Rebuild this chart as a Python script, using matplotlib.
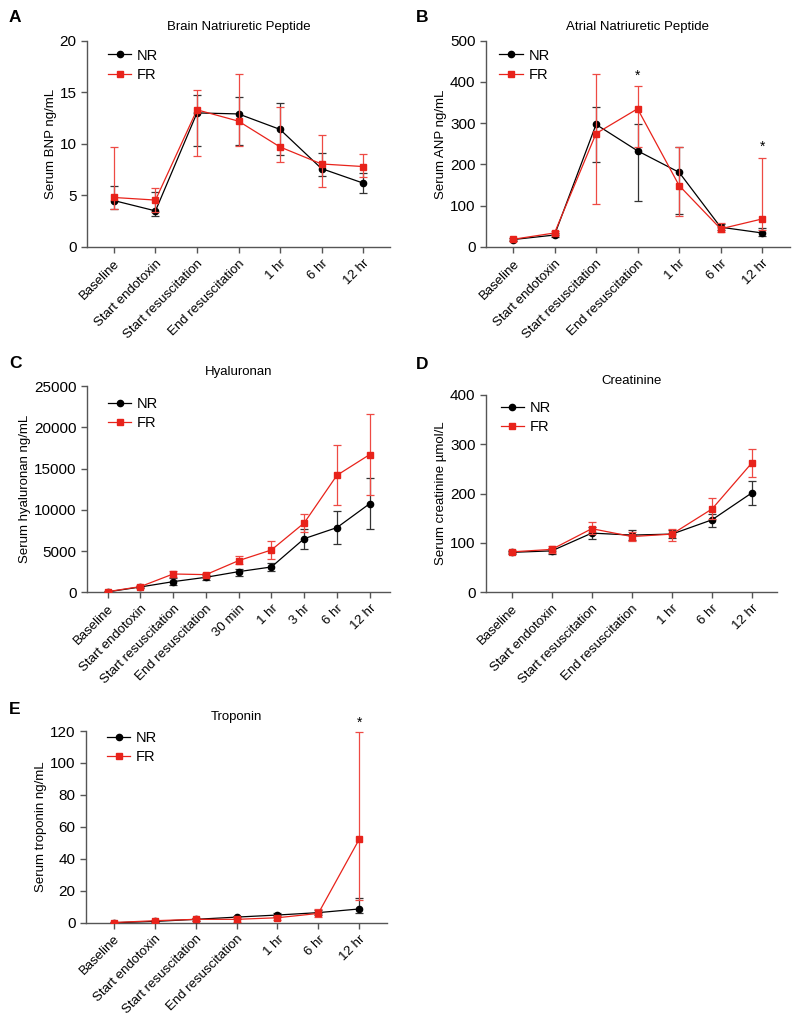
import numpy as np
import matplotlib
matplotlib.use("Agg")
import matplotlib.pyplot as plt
from matplotlib.lines import Line2D

plt.rcParams['font.family'] = ['Liberation Sans', 'DejaVu Sans']
plt.rcParams['font.size'] = 9

RED = '#e8231b'
GREY = '#555555'

tp7 = ['Baseline', 'Start endotoxin', 'Start resuscitation', 'End resuscitation',
       '1 hr', '6 hr', '12 hr']
tp9 = ['Baseline', 'Start endotoxin', 'Start resuscitation', 'End resuscitation',
       '30 min', '1 hr', '3 hr', '6 hr', '12 hr']

# BNP (ng/mL): mean, lower and upper end of error bar
bnp_nr = [4.5, 3.5, 13.0, 12.9, 11.4, 7.6, 6.2]
bnp_nr_lo = [3.7, 3.0, 9.8, 9.9, 8.9, 6.9, 5.2]
bnp_nr_hi = [5.9, 5.3, 14.7, 14.5, 14.0, 9.1, 7.2]
bnp_fr = [4.8, 4.55, 13.3, 12.2, 9.7, 8.05, 7.8]
bnp_fr_lo = [3.7, 3.4, 8.8, 9.8, 8.25, 5.8, 6.8]
bnp_fr_hi = [9.7, 5.7, 15.2, 16.8, 13.6, 10.9, 9.05]

# ANP (ng/mL)
anp_nr = [18, 29, 297, 233, 181, 48, 34]
anp_nr_lo = [15, 25, 207, 112, 81, 40, 27]
anp_nr_hi = [21, 33, 339, 299, 242, 56, 47]
anp_fr = [18.6, 34, 275, 335, 149, 44, 68]
anp_fr_lo = [15, 28, 105, 243, 76, 37, 40]
anp_fr_hi = [22, 38, 420, 389, 242, 58, 216]
anp_star = [3, 6]

# Hyaluronan (ng/mL)
ha_nr = [50, 646, 1290, 1820, 2505, 3070, 6500, 7840, 10740]
ha_nr_lo = [0, 500, 890, 1500, 2020, 2590, 5210, 5820, 7630]
ha_nr_hi = [150, 790, 1690, 2120, 2870, 3600, 7720, 9820, 13880]
ha_fr = [80, 690, 2220, 2140, 3840, 5130, 8400, 14180, 16690]
ha_fr_lo = [0, 550, 1820, 1820, 3430, 4040, 7310, 10540, 11750]
ha_fr_hi = [180, 830, 2630, 2380, 4400, 6220, 9450, 17860, 21610]

# Creatinine (umol/L)
cr_nr = [81, 84, 120, 116, 118, 147, 202]
cr_nr_lo = [78, 78, 108, 106, 110, 133, 177]
cr_nr_hi = [84, 90, 132, 127, 126, 158, 226]
cr_fr = [82, 87, 129, 113, 118, 169, 263]
cr_fr_lo = [79, 80, 118, 103, 105, 149, 234]
cr_fr_hi = [85, 94, 142, 123, 129, 192, 291]

# Troponin (ng/mL)
tn_nr = [0.0, 0.8, 2.1, 3.5, 4.8, 6.3, 8.6]
tn_nr_lo = [0.0, 0.3, 1.3, 2.5, 3.8, 4.8, 5.8]
tn_nr_hi = [0.3, 1.3, 2.9, 4.5, 5.8, 7.8, 15.2]
tn_fr = [0.1, 1.25, 2.1, 2.1, 3.1, 5.8, 52.2]
tn_fr_lo = [0.0, 0.5, 1.2, 0.6, 2.0, 3.8, 14.2]
tn_fr_hi = [0.3, 2.0, 3.0, 3.6, 4.2, 8.8, 119.6]
tn_star = [6]

W, H = 800, 1021
fig = plt.figure(figsize=(W / 100, H / 100), dpi=100)


def make_ax(left, right, top, bottom):
    return fig.add_axes([left / W, 1 - bottom / H, (right - left) / W, (bottom - top) / H])


def panel(ax, labels, nr, nr_lo, nr_hi, fr, fr_lo, fr_hi, title, ylabel, yticks,
          xlim, leg_anchor, letter, letter_xy, stars=(), star_off=0):
    x = np.arange(len(labels))
    nr = np.array(nr); fr = np.array(fr)
    ax.errorbar(x, nr, yerr=[nr - np.array(nr_lo), np.array(nr_hi) - nr], color='black',
                ecolor='#333333', elinewidth=0.9, capsize=3, capthick=0.9,
                marker='o', markersize=4.5, lw=0.9, zorder=3)
    ax.errorbar(x, fr, yerr=[fr - np.array(fr_lo), np.array(fr_hi) - fr], color=RED,
                ecolor='#ee4a44', elinewidth=0.9, capsize=3, capthick=0.9,
                marker='s', markersize=5, lw=0.9, zorder=4)
    for i in stars:
        ax.text(x[i], fr_hi[i] + star_off, '*', ha='center', va='bottom', fontsize=10)
    ax.set_xlim(*xlim)
    ax.set_ylim(yticks[0], yticks[-1])
    ax.set_yticks(yticks)
    ax.set_xticks(x)
    ax.set_xticklabels(labels, rotation=45, ha='right', rotation_mode='anchor')
    for s in ['top', 'right']:
        ax.spines[s].set_visible(False)
    for s in ['left', 'bottom']:
        ax.spines[s].set_color(GREY)
        ax.spines[s].set_linewidth(1.0)
    ax.tick_params(colors=GREY, labelcolor='black', length=4, width=1.0)
    ax.tick_params(axis='y', labelsize=11)
    ax.tick_params(axis='x', labelsize=9.5)
    ax.set_ylabel(ylabel, fontsize=9.5, labelpad=2)
    ax.set_title(title, fontsize=9.5, pad=8)
    handles = [Line2D([], [], color='black', marker='o', markersize=4.5, lw=0.9),
               Line2D([], [], color=RED, marker='s', markersize=5, lw=0.9)]
    ax.legend(handles, ['NR', 'FR'], loc='upper left', bbox_to_anchor=leg_anchor,
              frameon=False, fontsize=10.5, handlelength=1.6, handletextpad=0.4,
              labelspacing=0.35, borderaxespad=0)
    fig.text(letter_xy[0] / W, 1 - letter_xy[1] / H, letter, fontsize=12.5,
             fontweight='bold', va='top', ha='left')


axA = make_ax(87, 390, 40.7, 247)
panel(axA, tp7, bnp_nr, bnp_nr_lo, bnp_nr_hi, bnp_fr, bnp_fr_lo, bnp_fr_hi,
      'Brain Natriuretic Peptide', 'Serum BNP ng/mL', [0, 5, 10, 15, 20],
      (-0.65, 6.65), (0.05, 0.99), 'A', (9, 10))

axB = make_ax(486, 790, 40.7, 247)
panel(axB, tp7, anp_nr, anp_nr_lo, anp_nr_hi, anp_fr, anp_fr_lo, anp_fr_hi,
      'Atrial Natriuretic Peptide', 'Serum ANP ng/mL', [0, 100, 200, 300, 400, 500],
      (-0.65, 6.67), (0.025, 0.99), 'B', (416, 10), stars=anp_star, star_off=10)

axC = make_ax(87, 390, 386, 592.3)
panel(axC, tp9, ha_nr, ha_nr_lo, ha_nr_hi, ha_fr, ha_fr_lo, ha_fr_hi,
      'Hyaluronan', 'Serum hyaluronan ng/mL', [0, 5000, 10000, 15000, 20000, 25000],
      (-0.63, 8.62), (0.05, 0.975), 'C', (9, 356))

axD = make_ax(486, 777, 395, 592.3)
panel(axD, tp7, cr_nr, cr_nr_lo, cr_nr_hi, cr_fr, cr_fr_lo, cr_fr_hi,
      'Creatinine', 'Serum creatinine µmol/L', [0, 100, 200, 300, 400],
      (-0.64, 6.62), (0.03, 1.0), 'D', (416, 357))

axE = make_ax(86, 387, 731, 922.7)
panel(axE, tp7, tn_nr, tn_nr_lo, tn_nr_hi, tn_fr, tn_fr_lo, tn_fr_hi,
      'Troponin', 'Serum troponin ng/mL', [0, 20, 40, 60, 80, 100, 120],
      (-0.68, 6.68), (0.05, 1.03), 'E', (9, 702), stars=tn_star, star_off=1)

fig.savefig('out.png', dpi=100)
